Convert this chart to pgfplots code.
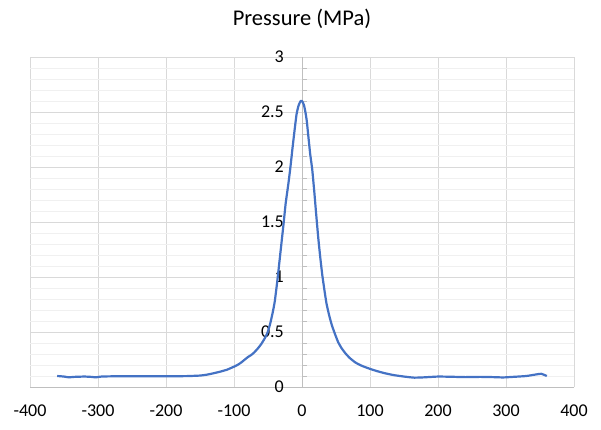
\documentclass[border=0pt]{standalone}
\usepackage{pgfplots}
\pgfplotsset{compat=1.18}
\usepackage{fontspec}
\setmainfont{Carlito}
\definecolor{exblue}{RGB}{68,114,196}
\definecolor{gridmaj}{RGB}{217,217,217}
\definecolor{gridmin}{RGB}{240,240,240}
\definecolor{axgray}{RGB}{191,191,191}
\begin{document}
\begin{tikzpicture}
\useasboundingbox (0,0) rectangle (601pt,429pt);
\begin{axis}[
  at={(30pt,42pt)}, anchor=south west,
  scale only axis, width=544pt, height=330pt,
  xmin=-400, xmax=400, ymin=0, ymax=3,
  axis x line=bottom,
  axis y line=middle,
  axis line style={-, draw=axgray, line width=1pt},
  xtick={-400,-300,...,400},
  ytick={0,0.5,...,3},
  minor y tick num=4,
  minor x tick num=0,
  grid=both,
  major grid style={draw=gridmaj, line width=1pt},
  minor grid style={draw=gridmin, line width=1pt},
  xtick style={draw=none},
  major y tick style={draw=none},
  minor y tick style={draw=axgray, line width=0.8pt},
  minor tick length=5pt,
  tick align=inside,
  /pgf/number format/assume math mode=true,
  xticklabel style={anchor=center, yshift=-24pt, font=\fontsize{18}{21}\selectfont},
  yticklabel style={anchor=east, inner sep=0pt, xshift=-18pt, font=\fontsize{18}{21}\selectfont},
  title={Pressure (MPa)},
  title style={at={(0.5,1)}, anchor=center, yshift=32pt, font=\fontsize{22.5}{26}\selectfont},
  clip=false,
]
\addplot[exblue, line width=2.2pt, line join=round, smooth, tension=0.3] coordinates {
(-360,0.100) (-350,0.095) (-343,0.088) (-335,0.092) (-320,0.095) (-310,0.092)
(-303,0.088) (-295,0.095) (-280,0.097) (-250,0.098) (-200,0.098) (-170,0.099)
(-150,0.104) (-140,0.112) (-130,0.125) (-120,0.140) (-110,0.158) (-100,0.185)
(-95,0.200) (-90,0.220) (-85,0.245) (-80,0.270) (-75,0.290) (-71,0.310)
(-65,0.350) (-60,0.390) (-55,0.440) (-51,0.490) (-47,0.570) (-43,0.680)
(-40,0.780) (-36,0.980) (-33,1.150) (-30,1.320) (-27,1.490) (-24,1.670)
(-20,1.850) (-17,2.000) (-14,2.170) (-11,2.330) (-8,2.480) (-5,2.560)
(-2,2.600) (0,2.600) (1,2.590) (3,2.560) (5,2.500) (7,2.420) (9,2.300)
(12,2.120) (15,1.980) (18,1.780) (21,1.560) (24,1.350) (27,1.170) (30,1.010)
(33,0.880) (36,0.760) (40,0.650) (44,0.560) (48,0.490) (53,0.410) (58,0.355)
(64,0.305) (70,0.265) (78,0.225) (86,0.198) (92,0.183) (100,0.165) (110,0.145)
(122,0.125) (135,0.108) (150,0.095) (165,0.085) (180,0.088) (200,0.095)
(220,0.093) (240,0.090) (262,0.092) (280,0.090) (296,0.087) (310,0.092)
(330,0.100) (345,0.115) (352,0.120) (360,0.100)
};
\node[anchor=east, inner sep=0pt, xshift=-18pt, font=\fontsize{18}{21}\selectfont] at (axis cs:0,0) {0};
\end{axis}
\end{tikzpicture}
\end{document}
